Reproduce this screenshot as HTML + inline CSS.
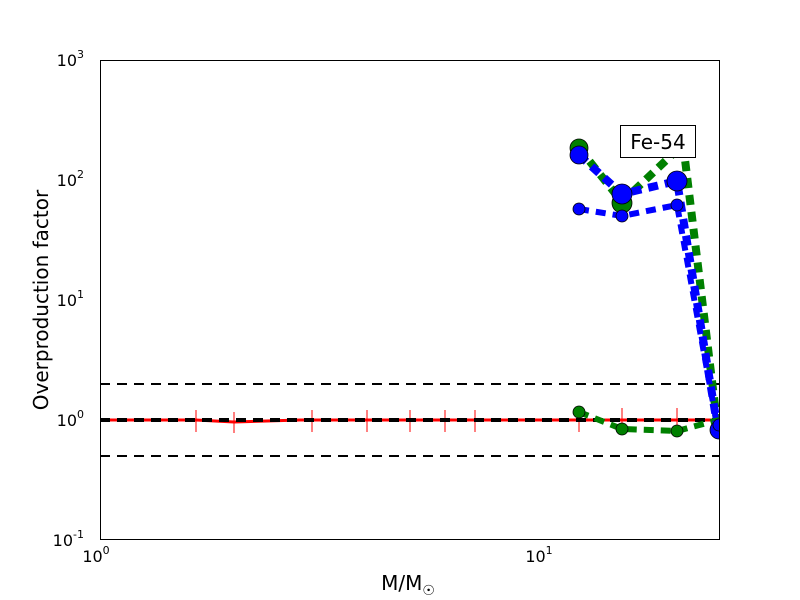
<!DOCTYPE html>
<html><head><style>body{margin:0;background:#fff}svg{display:block}</style></head><body>
<svg width="800" height="600" xmlns="http://www.w3.org/2000/svg" font-family="DejaVu Sans, Liberation Sans, sans-serif">
<rect width="800" height="600" fill="#fff"/>
<defs><clipPath id="c"><rect x="100" y="60" width="620" height="480"/></clipPath></defs>
<g id="ticks" stroke="#000" stroke-width="1">
</g>
<g clip-path="url(#c)">
<line x1="100" y1="384" x2="720" y2="384" stroke="#000" stroke-width="2" stroke-dasharray="10,7"/>
<line x1="100" y1="456" x2="720" y2="456" stroke="#000" stroke-width="2" stroke-dasharray="10,7"/>
<polyline points="100,420 196,420 234,422 300,420 720,420" fill="none" stroke="red" stroke-width="3"/>
<g stroke="red" stroke-width="1">
<line x1="196" y1="410" x2="196" y2="432"/><line x1="234" y1="412" x2="234" y2="433"/><line x1="312" y1="410" x2="312" y2="432"/><line x1="367" y1="410" x2="367" y2="432"/><line x1="410" y1="410" x2="410" y2="432"/><line x1="445" y1="410" x2="445" y2="432"/><line x1="475" y1="410" x2="475" y2="432"/><line x1="579" y1="408" x2="579" y2="432"/><line x1="622" y1="408" x2="622" y2="432"/><line x1="677" y1="408" x2="677" y2="432"/>
</g>
<line x1="100" y1="420" x2="720" y2="420" stroke="#000" stroke-width="4" stroke-dasharray="10,7"/>
<polyline points="579,412 622,429 677,431 718,420" fill="none" stroke="green" stroke-width="6" stroke-dasharray="10,7"/>
<polyline points="579,148 622,202 677,150 682,135 718,430" fill="none" stroke="green" stroke-width="8" stroke-dasharray="10,7"/>
<polyline points="579,155 622,194 677,181 718,430" fill="none" stroke="blue" stroke-width="8" stroke-dasharray="10,7"/>
<polyline points="579,209 622,216 677,205 718,430" fill="none" stroke="blue" stroke-width="6" stroke-dasharray="10,7"/>
<g stroke="#000" stroke-width="0.8">
<circle cx="579" cy="148" r="9" fill="green"/><circle cx="622" cy="203" r="10" fill="green"/>
<circle cx="579" cy="155" r="9" fill="blue"/><circle cx="622" cy="194" r="10" fill="blue"/><circle cx="677" cy="181" r="10" fill="blue"/>
<circle cx="579" cy="209" r="6" fill="blue"/><circle cx="622" cy="216" r="6" fill="blue"/><circle cx="677" cy="205" r="6" fill="blue"/>
<circle cx="579" cy="412" r="6" fill="green"/><circle cx="622" cy="429" r="6" fill="green"/><circle cx="677" cy="431" r="6" fill="green"/>
<circle cx="719" cy="430" r="9" fill="blue"/><circle cx="719" cy="425" r="6" fill="blue"/>
</g>
</g>
<rect x="620.5" y="125.5" width="75" height="32" fill="#fff" stroke="#000"/>
<text x="658" y="149" font-size="20" text-anchor="middle">Fe-54</text>
<rect x="100.5" y="60.5" width="619" height="479" fill="none" stroke="#000"/>
<g font-size="16" text-anchor="end">
<text x="84" y="546">10<tspan font-size="11" dy="-8">-1</tspan></text>
<text x="84" y="426">10<tspan font-size="11" dy="-8">0</tspan></text>
<text x="84" y="306">10<tspan font-size="11" dy="-8">1</tspan></text>
<text x="84" y="186">10<tspan font-size="11" dy="-8">2</tspan></text>
<text x="84" y="66">10<tspan font-size="11" dy="-8">3</tspan></text>
</g>
<g font-size="16" text-anchor="middle">
<text x="96" y="562">10<tspan font-size="11" dy="-8">0</tspan></text>
<text x="539" y="562">10<tspan font-size="11" dy="-8">1</tspan></text>
<text x="408" y="590" font-size="20">M/M<tspan font-size="14" dy="5">☉</tspan></text>
</g>
<text transform="translate(48,300) rotate(-90)" font-size="20" text-anchor="middle">Overproduction factor</text>
<script>
var g=document.getElementById('ticks'),s='';
function L(a,b,c,d){s+='<line x1="'+a+'" y1="'+b+'" x2="'+c+'" y2="'+d+'"/>';}
for(var d=-1;d<3;d++)for(var k=1;k<10;k++){var y=420-120*(d+Math.log10(k));var l=k==1?8:4;L(100,y,100+l,y);L(720,y,720-l,y);}
for(var d=0;d<2;d++)for(var k=1;k<10;k++){var m=Math.pow(10,d)*k;if(m>25.2)break;var x=100+443*Math.log10(m);var l=k==1?8:4;L(x,540,x,540-l);L(x,60,x,60+l);}
g.innerHTML=s;
</script>
</svg>
</body></html>
